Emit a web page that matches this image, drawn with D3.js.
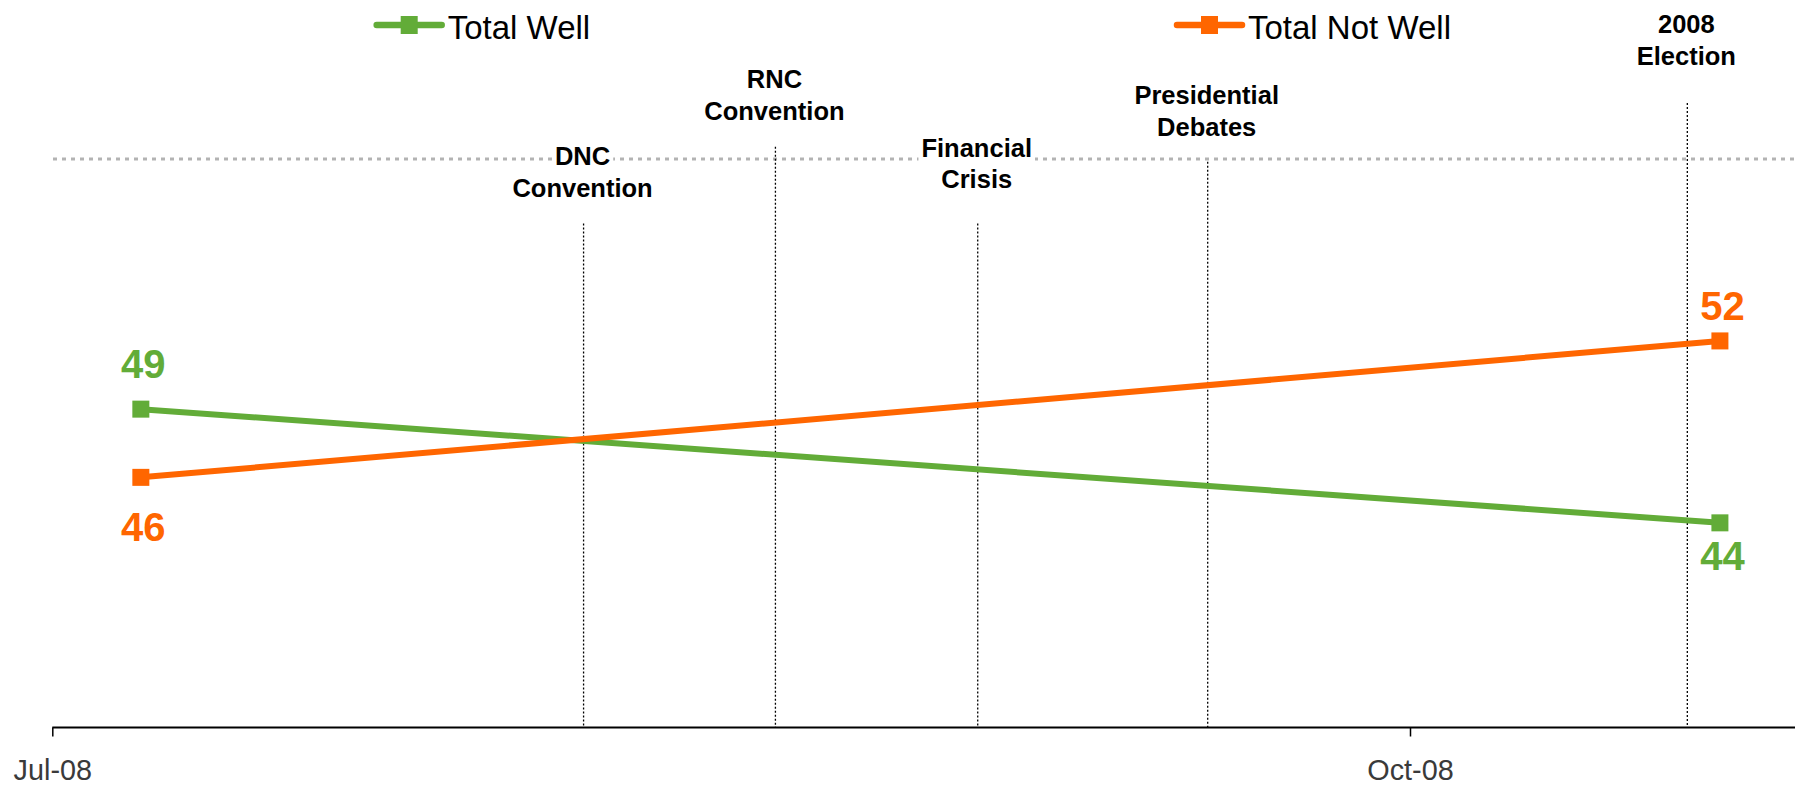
<!DOCTYPE html>
<html>
<head>
<meta charset="utf-8">
<script src="https://cdn.jsdelivr.net/npm/d3@7"></script>
<style>
  html, body { margin: 0; padding: 0; background: #ffffff; }
  svg { display: block; font-family: "Liberation Sans", Arial, sans-serif; }
</style>
</head>
<body>
<svg id="chart" width="1797" height="787"></svg>
<script>
// ---------------- data ----------------
const seriesNames = ["Total Well", "Total Not Well"];
const surveyDates = ["2008-07-07", "2008-10-22"];
const totalWell = [49, 44];
const totalNotWell = [46, 52];

const tickDates = ["2008-07-01", "2008-10-01"];
const tickLabels = ["Jul-08", "Oct-08"];

const eventLabels = [
  ["DNC", "Convention"],
  ["RNC", "Convention"],
  ["Financial", "Crisis"],
  ["Presidential", "Debates"],
  ["2008", "Election"]
];
const eventDates = ["2008-08-06", "2008-08-19", "2008-09-01T17:00Z", "2008-09-17T07:00Z", "2008-10-19T19:00Z"];

const yDomain = [35, 60];
const gridValues = [60];

// ---------------- layout / style ----------------
const W = 1797, H = 787;
const colors = ["#62AC38", "#FF6600"];
const svg = d3.select("#chart");
const parse = d3.isoParse;

const x = d3.scaleTime()
  .domain([parse("2008-07-01"), parse("2008-10-27")])
  .range([52.3, 1793.7]);
const y = d3.scaleLinear().domain(yDomain).range([727.5, 159]);

// grid line (dotted grey)
svg.append("g").selectAll("line").data(gridValues).join("line")
  .attr("x1", 53).attr("x2", 1795)
  .attr("y1", d => y(d)).attr("y2", d => y(d))
  .attr("stroke", "#b3b3b3").attr("stroke-width", 3)
  .attr("stroke-dasharray", "4,5");

// event vertical dotted lines
const eventLabelTop = [165, 88, 156.7, 104, 33];   // baseline of first label line
const eventLineTop = [223.5, 146.7, 223.5, 161.7, 103];
const evG = svg.append("g");
evG.selectAll("line").data(eventDates).join("line")
  .attr("x1", d => x(parse(d))).attr("x2", d => x(parse(d)))
  .attr("y1", (d, i) => eventLineTop[i]).attr("y2", y(yDomain[0]))
  .attr("stroke", "#000").attr("stroke-width", 1.3)
  .attr("stroke-dasharray", "2,2");

// event labels with white background per line
const labG = svg.append("g");
eventLabels.forEach((lines, i) => {
  const cx = x(parse(eventDates[i]));
  lines.forEach((t, j) => {
    const g = labG.append("g");
    const txt = g.append("text")
      .attr("x", cx - 1)
      .attr("y", eventLabelTop[i] + j * 31.5)
      .attr("text-anchor", "middle")
      .attr("font-size", 25.5)
      .attr("font-weight", "bold")
      .attr("fill", "#000")
      .text(t);
    const bb = txt.node().getBBox();
    g.insert("rect", "text")
      .attr("x", bb.x - 3).attr("y", bb.y)
      .attr("width", bb.width + 6).attr("height", bb.height)
      .attr("fill", "#fff");
  });
});

// x axis
const xAxis = d3.axisBottom(x)
  .tickValues(tickDates.map(parse))
  .tickFormat((d, i) => tickLabels[i])
  .tickSize(9)
  .tickSizeOuter(0);
const axG = svg.append("g")
  .attr("transform", `translate(0,${y(yDomain[0])})`)
  .call(xAxis);
axG.select(".domain")
  .attr("stroke", "#000").attr("stroke-width", 2.2)
  .attr("d", `M${x.range()[0]},0H1795`);
axG.selectAll(".tick line").attr("stroke", "#000").attr("stroke-width", 1.5);
axG.selectAll(".tick text")
  .attr("y", 52.5).attr("dy", null)
  .attr("font-size", 30)
  .attr("font-family", "'Liberation Sans', Arial, sans-serif")
  .attr("fill", "#3a3a3a")
  .attr("lengthAdjust", "spacingAndGlyphs")
  .attr("textLength", function () { return this.getComputedTextLength() * 0.96; });

// series
const series = [totalWell, totalNotWell];
const line = d3.line().x((d, i) => x(parse(surveyDates[i]))).y(d => y(d));
const sG = svg.append("g");
series.forEach((vals, si) => {
  sG.append("path")
    .attr("d", line(vals))
    .attr("fill", "none")
    .attr("stroke", colors[si])
    .attr("stroke-width", 6);
  sG.selectAll(null).data(vals).join("rect")
    .attr("x", (d, i) => x(parse(surveyDates[i])) - 8.5)
    .attr("y", d => y(d) - 8.5)
    .attr("width", 17).attr("height", 17)
    .attr("fill", colors[si]);
});

// data labels (relative offsets from markers)
const labelDy = [[-31, 47], [64, -21]];
series.forEach((vals, si) => {
  sG.selectAll(null).data(vals).join("text")
    .attr("x", (d, i) => x(parse(surveyDates[i])) + 2.5)
    .attr("y", (d, i) => y(d) + labelDy[si][i])
    .attr("text-anchor", "middle")
    .attr("font-size", 40)
    .attr("font-weight", "bold")
    .attr("fill", colors[si])
    .text(d => d);
});

// legend
const legendX = [376.7, 1177];
const lg = svg.append("g");
seriesNames.forEach((name, i) => {
  const g = lg.append("g").attr("transform", `translate(${legendX[i]},25)`);
  g.append("line").attr("x1", 0).attr("x2", 65).attr("y1", 0).attr("y2", 0)
    .attr("stroke", colors[i]).attr("stroke-width", 6.5).attr("stroke-linecap", "round");
  g.append("rect").attr("x", 24).attr("y", -9).attr("width", 17).attr("height", 18)
    .attr("fill", colors[i]);
  g.append("text").attr("x", 71).attr("y", 14)
    .attr("font-size", 33).attr("fill", "#000").text(name);
});
</script>
</body>
</html>
